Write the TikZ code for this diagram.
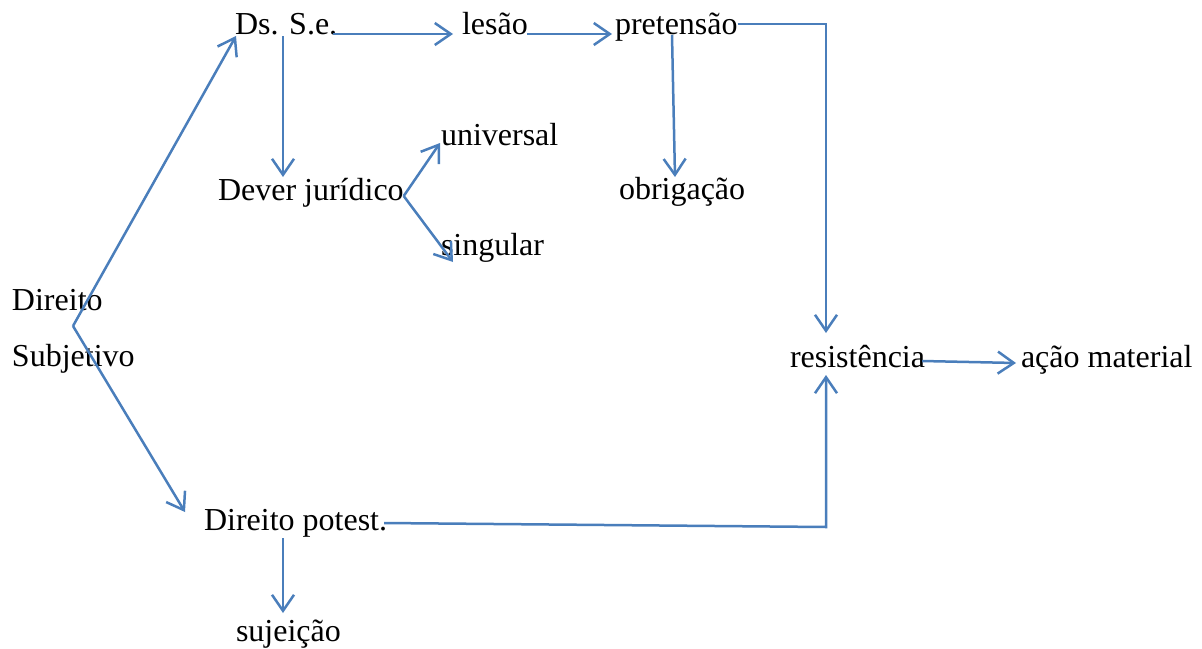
\documentclass[tikz,border=0pt]{standalone}
\usepackage{fontspec}
\setmainfont{Liberation Serif}
\usetikzlibrary{arrows.meta}
\definecolor{linkblue}{RGB}{74,126,187}
\tikzset{
  lbl/.style={anchor=base west, inner sep=0pt, outer sep=0pt, font=\fontsize{32}{38}\selectfont},
  arr/.style={draw=linkblue, line width=2.5pt, -{Straight Barb[length=16pt,width=22pt,line width=2.5pt]}},
  seg/.style={draw=linkblue, line width=2.5pt}
}
\begin{document}
\begin{tikzpicture}[x=1pt,y=-1pt]
\useasboundingbox (0,0) rectangle (1202,648);
\node[lbl] (ds) at (235,34) {Ds. S.e.};
\node[lbl] (lesao) at (462,34) {lesão};
\node[lbl] (pret) at (615,34) {pretensão};
\node[lbl] (univ) at (441,145) {universal};
\node[lbl] (dever) at (218,200) {Dever jurídico};
\node[lbl] (obrig) at (619,199) {obrigação};
\node[lbl] (sing) at (441,255) {singular};
\node[lbl] (dir) at (12,310) {Direito};
\node[lbl] (subj) at (12,366) {Subjetivo};
\node[lbl] (resist) at (790,367) {resistência};
\node[lbl] (acao) at (1021,367) {ação material};
\node[lbl] (potest) at (204,530) {Direito potest.};
\node[lbl] (suj) at (236,641) {sujeição};

\coordinate (fork) at (73,326);
\coordinate (djfork) at ([shift={(0,-4)}]dever.base east);

% left fork
\draw[arr] (fork) -- ([shift={(1,2)}]ds.base west);
\draw[arr] (fork) -- ([shift={(-19,-18)}]potest.base west);
% top row
\draw[arr] ([shift={(-4,0)}]ds.base east) -- ([shift={(-9,0)}]lesao.base west);
\draw[arr] ([shift={(-1,0)}]lesao.base east) -- ([shift={(-3,0)}]pret.base west);
\draw[arr] ([shift={(0,-10)}]pret.base east) -| ([shift={(36,-34)}]resist.base west);
\draw[arr] ([shift={(57,1)}]pret.base west) -- ([shift={(56,-22)}]obrig.base west);
\draw[arr] ([shift={(48,2)}]ds.base west) -- ([shift={(65,-23)}]dever.base west);
% dever juridico fork
\draw[arr] (djfork) -- ([shift={(-1,-2)}]univ.base west);
\draw[arr] (djfork) -- ([shift={(12,7)}]sing.base west);
% bottom
\draw[arr] ([shift={(-3,-7)}]potest.base east) -- ([shift={(36,160)}]resist.base west) -- ([shift={(36,8)}]resist.base west);
\draw[arr] ([shift={(-3,-6)}]resist.base east) -- ([shift={(-5,-4)}]acao.base west);
\draw[arr] ([shift={(79,8)}]potest.base west) -- ([shift={(47,-28)}]suj.base west);
\end{tikzpicture}
\end{document}
